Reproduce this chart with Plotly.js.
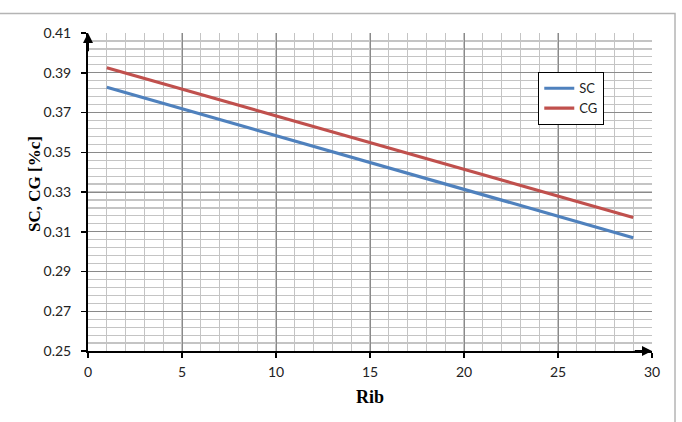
<!DOCTYPE html>
<html>
<head>
<meta charset="utf-8">
<script src="https://cdn.plot.ly/plotly-3.0.1.min.js"></script>
<style>html,body{margin:0;padding:0;background:#fff;}#chart{width:682px;height:422px;}</style>
</head>
<body>
<div id="chart"></div>
<script>
const ribs = [1,2,3,4,5,6,7,8,9,10,11,12,13,14,15,16,17,18,19,20,21,22,23,24,25,26,27,28,29];
const scValues = [0.3827,0.3800,0.3773,0.3746,0.3719,0.3692,0.3665,0.3638,0.3611,0.3584,0.3557,0.3530,0.3503,0.3476,0.3449,0.3422,0.3395,0.3368,0.3341,0.3314,0.3287,0.3260,0.3233,0.3206,0.3179,0.3152,0.3125,0.3098,0.3070];
const cgValues = [0.3925,0.3898,0.3871,0.3844,0.3817,0.3790,0.3764,0.3737,0.3710,0.3683,0.3656,0.3629,0.3602,0.3575,0.3549,0.3522,0.3495,0.3468,0.3441,0.3414,0.3387,0.3360,0.3333,0.3306,0.3280,0.3253,0.3226,0.3199,0.3172];
const seriesNames = ['SC','CG'];
const xTicks = [0,5,10,15,20,25,30];
const yTicks = [0.25,0.27,0.29,0.31,0.33,0.35,0.37,0.39,0.41];
const xTitle = 'Rib';
const yTitle = 'SC, CG [%c]';

const tickFont = {family:'Lato, "Open Sans", sans-serif', size:14, color:'#222'};
const titleFont = {family:'"Liberation Serif", "Times New Roman", serif', size:18, color:'#000', weight:'bold'};
const yTitleFont = {family:'"Liberation Serif", "Times New Roman", serif', size:17, color:'#000', weight:'bold'};

const traces = [
  {x:ribs, y:scValues, name:seriesNames[0], type:'scatter', mode:'lines', line:{color:'#4F81BD', width:3.2}},
  {x:ribs, y:cgValues, name:seriesNames[1], type:'scatter', mode:'lines', line:{color:'#C0504D', width:3.2}}
];

const layout = {
  width:682, height:422,
  margin:{l:88, r:30, t:33, b:71},
  paper_bgcolor:'#fff', plot_bgcolor:'#fff',
  showlegend:true,
  legend:{x:0.798, y:0.877, xanchor:'left', yanchor:'top', bgcolor:'#fff', bordercolor:'#000', borderwidth:1.2,
          font:{family:'Lato, "Open Sans", sans-serif', size:13, color:'#222'}, tracegroupgap:0, itemwidth:30},
  xaxis:{range:[0,30], autorange:false, tickvals:xTicks, ticktext:xTicks.map(String),
         showline:true, linecolor:'#000', linewidth:2, ticks:'outside', ticklen:5, tickwidth:1.5, tickcolor:'#000',
         ticklabelstandoff:2,
         showgrid:true, gridcolor:'#8a8a8a', gridwidth:1, zeroline:false,
         minor:{dtick:1, showgrid:true, gridcolor:'#c4c4c4', gridwidth:1.2},
         tickfont:tickFont, title:{text:xTitle, font:titleFont, standoff:12}},
  yaxis:{range:[0.25,0.41], autorange:false, tickvals:yTicks, ticktext:yTicks.map(v=>v.toFixed(2)),
         showline:true, linecolor:'#000', linewidth:2, ticks:'outside', ticklen:5, tickwidth:1.5, tickcolor:'#000',
         ticklabelstandoff:7,
         showgrid:true, gridcolor:'#8a8a8a', gridwidth:1, zeroline:false,
         minor:{tick0:0.25, dtick:0.004, showgrid:true, gridcolor:'#c4c4c4', gridwidth:1.2},
         tickfont:tickFont, title:{text:''}},
  annotations:[
    {x:0, y:0.41, xref:'x', yref:'y', axref:'x', ayref:'y', ax:0, ay:0.40, showarrow:true, arrowhead:2, arrowsize:1, arrowwidth:2, arrowcolor:'#000', text:''},
    {x:30, y:0.25, xref:'x', yref:'y', axref:'x', ayref:'y', ax:29, ay:0.25, showarrow:true, arrowhead:2, arrowsize:1, arrowwidth:2, arrowcolor:'#000', text:''},
    {x:-0.096, y:0.525, xref:'paper', yref:'paper', xanchor:'center', yanchor:'middle', textangle:-90, showarrow:false, text:yTitle, font:yTitleFont}
  ],
  shapes:[
    {type:'rect', xref:'paper', yref:'paper', x0:-0.2, x1:1.0408, y0:-0.3, y1:1.0613, line:{color:'#b4b4b4', width:1.5}, layer:'below'}
  ]
};

Plotly.newPlot('chart', traces, layout, {displayModeBar:false, staticPlot:true});
</script>
</body>
</html>
